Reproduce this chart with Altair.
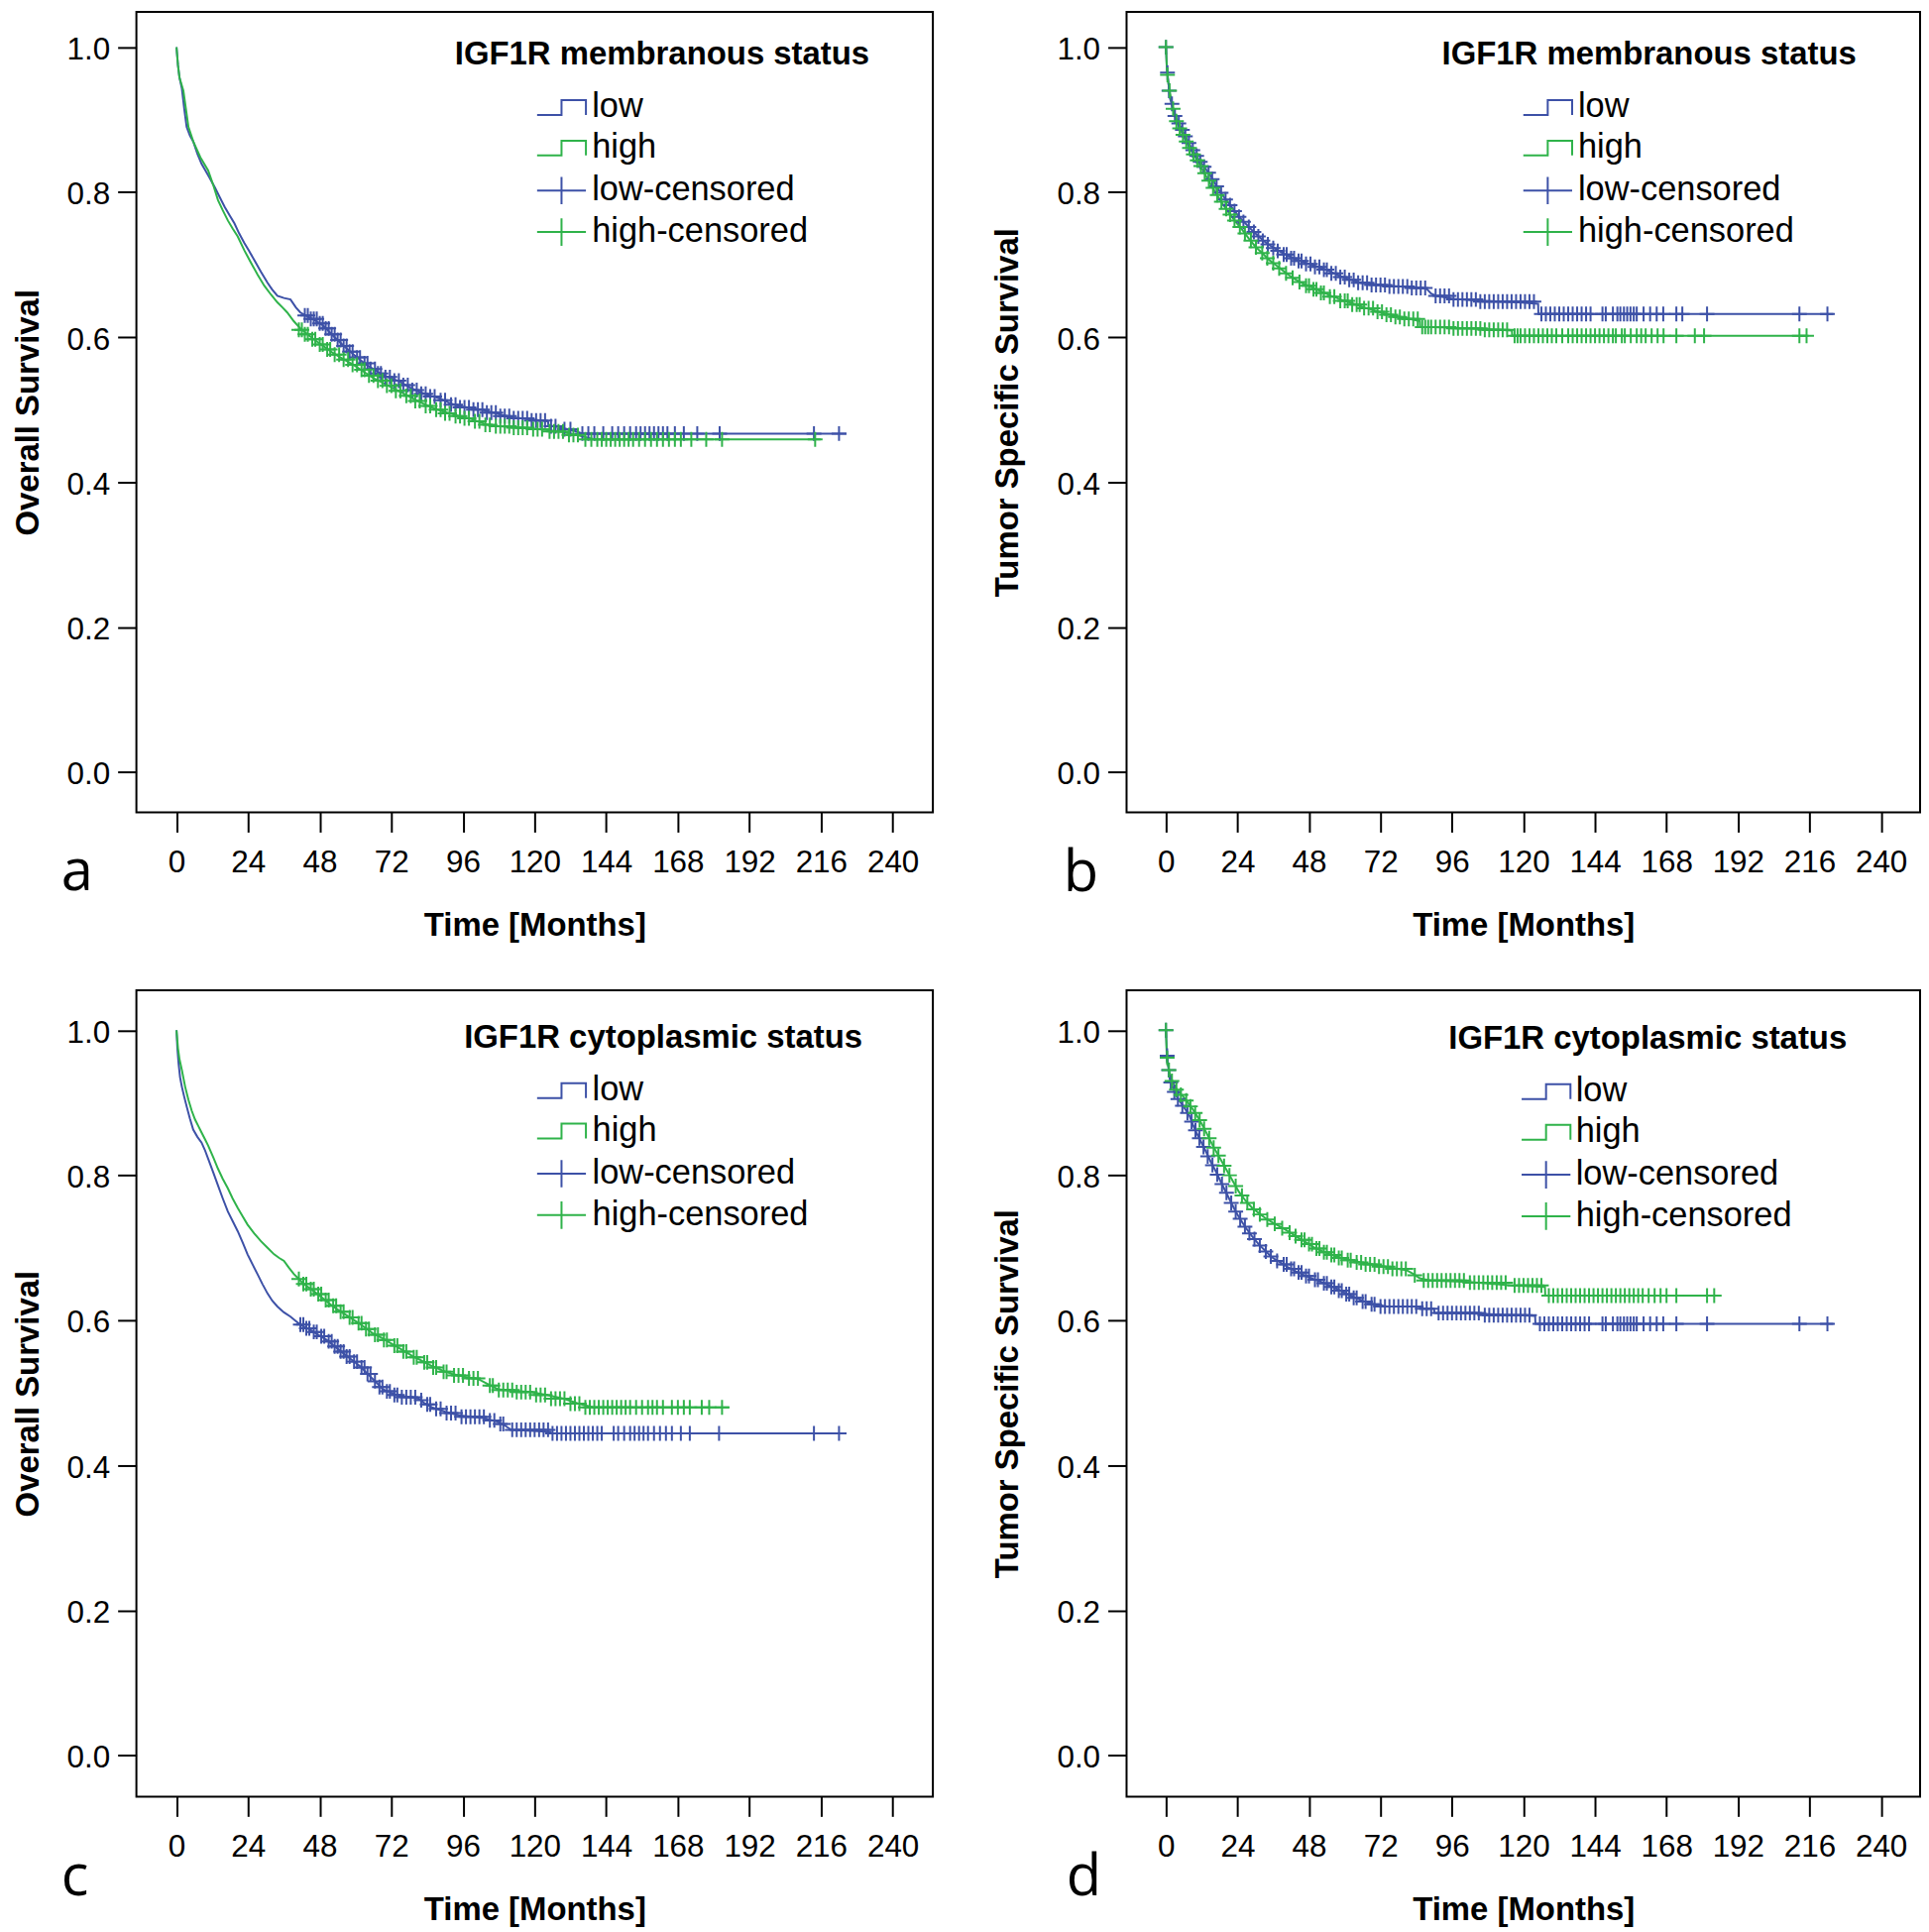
import altair as alt
import pandas as pd

LINE_SERIES = ["low", "high"]
CENS_SERIES = ["low-censored", "high-censored"]
BLUE = "#3d51a7"
GREEN = "#2fb34a"
X_TICKS = [0, 24, 48, 72, 96, 120, 144, 168, 192, 216, 240]
Y_TICKS = [0.0, 0.2, 0.4, 0.6, 0.8, 1.0]

# ---------- Panel a: membranous, overall survival ----------
A_LOW = [[0,1.0],[0.5,0.975],[1,0.958],[1.8,0.943],[2.6,0.915],[3.4,0.89],[4.5,0.878],[5.6,0.87],[7,0.853],[8.4,0.839],
         [10.5,0.824],[12.8,0.807],[14.5,0.793],[16.1,0.78],[17.8,0.768],[19.4,0.757],[21,0.743],[22.7,0.73],[24.3,0.719],
         [26,0.707],[28.3,0.69],[30.5,0.675],[32,0.666],[33.8,0.657],[36,0.654],[38.2,0.652],[40,0.641],[41.5,0.634],
         [43.7,0.629],[46.5,0.623],[49.2,0.616],[52.5,0.602],[55.8,0.589],[59.7,0.575],[63.6,0.562],[66.4,0.555],
         [69.1,0.548],[74.6,0.539],[78,0.531],[81.2,0.525],[84.5,0.52],[87.8,0.516],[91,0.51],[94.5,0.505],[99,0.502],
         [103.3,0.499],[107.7,0.494],[113.2,0.489],[118,0.487],[124.5,0.484],[124.6,0.478],[128,0.476],[131,0.473],
         [134,0.47],[136,0.467],[224.5,0.467]]
A_HIGH = [[0,1.0],[0.5,0.975],[1,0.958],[2.3,0.94],[4,0.89],[5.6,0.87],[8,0.848],[10.6,0.83],[12.3,0.81],[13.9,0.789],
          [15.5,0.775],[17.2,0.761],[18.8,0.75],[20.5,0.739],[22.7,0.72],[24.9,0.703],[27.2,0.686],[29.4,0.671],
          [31.6,0.659],[33.8,0.648],[35.5,0.641],[37.1,0.634],[39.3,0.622],[41.5,0.612],[44.2,0.603],[47,0.594],
          [49.8,0.586],[52.5,0.578],[55.8,0.57],[59.2,0.562],[62.5,0.553],[65.8,0.544],[69.1,0.537],[72.4,0.53],
          [75.7,0.523],[79,0.516],[82.3,0.509],[85.6,0.503],[89,0.498],[92.3,0.494],[95.6,0.49],[98.9,0.487],
          [102,0.482],[105.5,0.478],[112,0.476],[118.7,0.474],[124,0.472],[129.8,0.469],[135,0.464],[140,0.459],
          [215.8,0.459]]
# censored marks: [survival level, [times]]
A_LOW_C = [[0.630,[43,44]],[0.625,[45,46,47]],[0.619,[48,49]],[0.612,[50,51]],[0.604,[52,53]],[0.596,[54,55]],
           [0.588,[56,57]],[0.580,[58,59]],[0.572,[60.5,61.5]],[0.564,[63,64]],[0.556,[65,66.5]],[0.550,[67.5,68.5]],
           [0.545,[70,71.5]],[0.540,[73,74.5]],[0.534,[76,77.5]],[0.527,[79,80.5]],[0.522,[82,83.5]],[0.518,[85,86.5]],
           [0.513,[88.5,90]],[0.507,[92,93.5]],[0.503,[95,96.5,98]],[0.500,[99.5,101,102.5]],[0.496,[104,105.5,107]],
           [0.491,[108.5,110,111.5]],[0.488,[113,114.5,116,117.5]],[0.485,[119,120.5,122,123.5]],[0.477,[125.5,127]],
           [0.473,[130,132]],
           [0.467,[136,138,140,143,146,148,150,152,154,155.5,157,158.5,160,161.5,163,164.5,167,170,174.5,182,213.6,222]]]
A_HIGH_C = [[0.610,[41,42]],[0.604,[43,44]],[0.597,[45.5,46.5]],[0.590,[48,49]],[0.583,[50.5,51.5]],[0.576,[53,54.5]],
            [0.569,[56,57.5]],[0.562,[59,60.5]],[0.555,[62,63]],[0.547,[64.5,66]],[0.540,[67.5,69]],[0.533,[70.5,72]],
            [0.526,[73.5,75]],[0.519,[77,78.5]],[0.512,[80,81.5]],[0.505,[83.5,85]],[0.500,[87,88.5]],[0.495,[90,91.5]],
            [0.491,[93.5,95]],[0.488,[96.5,98]],[0.484,[100,101.5]],[0.479,[103.5,105]],[0.477,[107,108.5,110,111.5]],
            [0.475,[113,114.5,116,117.5]],[0.473,[119.5,121,122.5]],[0.470,[125,126.5,128,129.5]],
            [0.465,[131.5,133,134.5]],
            [0.459,[137,139,141,142.5,144,145.5,147,148.5,150,151.5,153,155,157,159,161,163,165,167,169,172.5,177.5,182.8,214]]]

# ---------- Panel b: membranous, tumor specific survival ----------
B_LOW = [[0,1.0],[0.3,0.97],[0.8,0.952],[1.3,0.93],[2.4,0.915],[3.5,0.902],[4.6,0.893],[5.7,0.884],[6.8,0.875],[7.9,0.866],
         [9.6,0.854],[11.3,0.843],[13,0.834],[14.6,0.825],[16.3,0.813],[17.9,0.802],[19.5,0.793],[21.2,0.784],[22.9,0.775],
         [24.5,0.766],[26.2,0.759],[27.8,0.752],[29.5,0.745],[31.1,0.739],[33.3,0.731],[35.5,0.725],[38.3,0.718],
         [41.1,0.712],[43.8,0.707],[46.6,0.703],[49.4,0.699],[52.1,0.696],[55.4,0.69],[58.7,0.684],[62,0.679],
         [65.4,0.675],[70,0.673],[74.2,0.671],[78.6,0.67],[83,0.669],[87.4,0.667],[89,0.66],[90.7,0.657],[96.3,0.653],
         [101.8,0.651],[107.3,0.65],[112.8,0.649],[118.3,0.648],[124.9,0.646],[125,0.632],[224,0.632]]
B_HIGH = [[0,1.0],[0.3,0.97],[0.8,0.95],[2.2,0.918],[3.5,0.898],[5.7,0.879],[7.9,0.861],[10.2,0.846],[12.4,0.83],
          [14.6,0.814],[16.8,0.798],[19,0.784],[21.2,0.771],[23.4,0.759],[25.6,0.748],[27.8,0.736],[30,0.725],
          [32.3,0.716],[34.5,0.707],[36.7,0.7],[38.9,0.693],[41.1,0.686],[43.3,0.68],[46,0.674],[48.8,0.669],
          [52.1,0.663],[55.4,0.657],[59.3,0.651],[63.1,0.646],[66.5,0.641],[69.8,0.637],[73.1,0.633],[76.4,0.63],
          [79.7,0.627],[83,0.624],[85.2,0.622],[85.3,0.614],[96.3,0.613],[107.3,0.611],[116.1,0.609],[116.2,0.602],
          [215.7,0.602]]
B_LOW_C = [[1.0,[0]],[0.965,[0.5]],[0.94,[1]],[0.922,[2]],[0.905,[3]],[0.895,[4.3]],[0.886,[5.5]],[0.877,[6.5]],
           [0.868,[7.7]],[0.858,[9]],[0.85,[10.3]],[0.842,[11.5]],[0.835,[12.8]],[0.827,[14.3]],[0.818,[15.5]],
           [0.808,[17]],[0.799,[18.5]],[0.79,[20]],[0.782,[21.5]],[0.774,[23]],[0.766,[24.5]],[0.759,[26]],
           [0.752,[27.8]],[0.745,[29.5]],[0.739,[31]],[0.733,[32.5]],[0.728,[34.2]],[0.723,[36]],[0.719,[37.5]],
           [0.714,[39.5,40.5]],[0.709,[42,43]],[0.705,[44.5,45.5]],[0.701,[47,48.5]],[0.697,[50,51.5]],[0.693,[53,54]],
           [0.688,[55.5,57]],[0.683,[58.5,60]],[0.679,[61.5,63]],[0.675,[64.5,66,67.5]],[0.672,[69,70.5,72,73.5]],
           [0.67,[75,76.5,78,79.5,81]],[0.668,[82.5,84,85.5,87]],[0.657,[90.5,92,93.5,95]],
           [0.652,[96.5,98,99.5,101,102.5,104]],
           [0.649,[105.5,107,108.5,110,111.5,113,114.5,116,117.5,119,120.5,122,123.5]],
           [0.632,[126,127.5,129,130.5,132,133.5,135,136.5,138,139.5,141,142.5,146.5,147.6,150,151.5,152.5,153.7,
                   154.8,155.9,157,158,160.3,162.5,164.7,166.9,171.3,173.3,181.6,212.6,222]]]
B_HIGH_C = [[1.0,[0]],[0.962,[0.5]],[0.94,[1.2]],[0.915,[2.4]],[0.898,[3.5]],[0.888,[4.6]],[0.879,[5.7]],[0.87,[6.8]],
            [0.861,[7.9]],[0.852,[9.2]],[0.844,[10.5]],[0.836,[11.7]],[0.826,[13]],[0.816,[14.4]],[0.806,[15.8]],
            [0.796,[17.2]],[0.787,[18.6]],[0.777,[20.2]],[0.769,[21.5]],[0.761,[23]],[0.752,[24.8]],[0.743,[26.5]],
            [0.733,[28.5]],[0.724,[30.2]],[0.716,[32.3]],[0.709,[34]],[0.702,[36]],[0.695,[38]],[0.688,[40.3]],
            [0.682,[42.5]],[0.676,[44.8]],[0.671,[47,48]],[0.666,[49.5,50.5]],[0.661,[52,53]],[0.656,[55,56.5]],
            [0.65,[58.5,60,61]],[0.645,[62.5,64,65]],[0.64,[66.5,68,69.5]],[0.635,[71,72.5]],[0.631,[74,75.5]],
            [0.628,[77,78.5]],[0.625,[80,81.5,83,84.5]],[0.614,[86,87,88,89,90.5,92,93.5,95]],
            [0.612,[96.5,98,99.5,101,102.5,104,105.5]],[0.61,[107,108.5,110,111.5,113,114.5]],
            [0.602,[117,118,119,120.5,122,123.5,125,126.5,128,129.5,131,133,135,136.5,138,139.5,141,142.5,144,145.5,
                    147,148.5,150,151,153,154,156,158,159.5,161,163,165,167,171.3,177.5,180.6,212.6,215]]]

# ---------- Panel c: cytoplasmic, overall survival ----------
C_LOW = [[0,1.0],[0.3,0.975],[0.7,0.954],[1.2,0.935],[1.8,0.922],[2.6,0.908],[3.4,0.895],[4.5,0.878],[5.6,0.863],[7,0.853],
         [8.4,0.845],[9.5,0.835],[10.6,0.823],[12.3,0.804],[13.9,0.786],[15.5,0.768],[17.2,0.75],[18.8,0.737],
         [20.5,0.723],[22.2,0.707],[23.8,0.691],[25.5,0.677],[27.1,0.664],[28.8,0.65],[30.5,0.637],[32.1,0.627],
         [33.8,0.619],[36,0.611],[38.2,0.605],[40,0.599],[41.5,0.594],[43.2,0.59],[44.8,0.587],[47.5,0.58],[50.3,0.573],
         [53,0.564],[55.8,0.555],[58.6,0.546],[61.4,0.537],[63.6,0.528],[65.8,0.519],[67.5,0.512],[69.1,0.505],[72,0.5],
         [74.6,0.496],[78,0.494],[81.2,0.492],[83,0.486],[85.6,0.48],[90,0.474],[94.5,0.469],[99,0.467],[103.3,0.465],
         [107.7,0.46],[110,0.455],[112.1,0.449],[125.4,0.446],[125.5,0.444],[224.5,0.444]]
C_HIGH = [[0,1.0],[0.5,0.975],[1,0.96],[1.8,0.945],[2.9,0.922],[4,0.904],[5.1,0.889],[6.2,0.877],[7.3,0.868],[8.4,0.859],
          [9.5,0.85],[10.6,0.841],[12.3,0.825],[13.9,0.809],[15.5,0.795],[17.2,0.782],[18.8,0.768],[20.5,0.755],
          [22.2,0.743],[23.8,0.732],[26,0.72],[28.3,0.709],[30.5,0.7],[32.7,0.691],[34.4,0.686],[36,0.682],[37.6,0.673],
          [39.3,0.664],[41,0.657],[42.6,0.65],[44.8,0.644],[47,0.637],[49.8,0.628],[52.5,0.619],[55.8,0.61],[59.2,0.601],
          [62.5,0.592],[65.8,0.582],[69.1,0.575],[72.4,0.567],[75.7,0.559],[79,0.551],[82.3,0.544],[85.6,0.537],
          [89,0.531],[92.3,0.526],[96.7,0.522],[101.1,0.519],[104.4,0.512],[107.7,0.505],[113,0.503],[118.7,0.501],
          [124,0.497],[129.8,0.492],[134.7,0.485],[139.7,0.48],[185.2,0.48]]
C_LOW_C = [[0.594,[41.5,42.5]],[0.589,[43.5,44.5]],[0.584,[46,47]],[0.578,[48.5,49.5]],[0.571,[51,52]],[0.564,[53,54]],
           [0.557,[55,56]],[0.55,[57,58]],[0.543,[59.5,60.5]],[0.535,[62,63]],[0.526,[64,65]],[0.516,[66.5]],
           [0.508,[68,69]],[0.502,[70.5,71.5]],[0.497,[73,74]],[0.494,[75.5,77,78.5,80]],[0.49,[82]],[0.484,[84,85]],
           [0.478,[87,88.5]],[0.472,[90.5,92,93.5]],[0.467,[95.5,97,98.5,100,101.5,103]],[0.462,[105,106.5]],
           [0.457,[108.5,109.5]],[0.449,[112.5,114,115.5,117,118.5,120,121.5,123,124.5]],
           [0.444,[126,127.5,129,130.5,132,133.5,135,136.5,138,139.5,141,142.5,146.5,148,150,152,153.5,155,156.5,
                   158,160,162,164,166,169,172,181.8,213.6,222]]]
C_HIGH_C = [[0.657,[41]],[0.65,[42.5,43.5]],[0.643,[45,46]],[0.636,[47.5,48.5]],[0.628,[50,51]],[0.62,[52.5,53.5]],
            [0.612,[55,56]],[0.604,[58,59]],[0.596,[61,62]],[0.588,[63.5,64.5]],[0.58,[66.5,67.5]],[0.573,[69.5,70.5]],
            [0.565,[73,74]],[0.557,[76,77]],[0.549,[79.5,80.5]],[0.542,[83,84]],[0.535,[86,87]],[0.529,[89.5,90.5]],
            [0.524,[93,94.5,96]],[0.52,[98,99.5,101]],[0.51,[105,106]],[0.504,[108,109.5,111,112.5]],
            [0.501,[114,115.5,117,118.5]],[0.497,[120.5,122,123.5]],[0.492,[125.5,127,128.5,130]],[0.485,[132,133.5,135]],
            [0.48,[137,138.5,140,141.5,143,144.5,146,147.5,149,150.5,152,154,156,158,159.5,161,163,166,168,170,172,
                   176,178.5,182.8]]]

# ---------- Panel d: cytoplasmic, tumor specific survival ----------
D_LOW = [[0,1.0],[0.3,0.968],[1.3,0.932],[2.4,0.92],[3.5,0.909],[4.6,0.902],[5.7,0.896],[6.8,0.889],[7.9,0.882],[9,0.87],
         [10.2,0.859],[11.8,0.846],[13.5,0.832],[15.1,0.818],[16.8,0.805],[18.4,0.791],[20.1,0.777],[21.8,0.763],
         [23.4,0.75],[25,0.739],[26.7,0.728],[28.9,0.716],[31.1,0.705],[33.3,0.696],[35.5,0.687],[38.3,0.68],
         [41.1,0.673],[43.8,0.667],[46.6,0.662],[49.4,0.657],[52.1,0.653],[54.9,0.648],[57.6,0.643],[60.4,0.637],
         [63.1,0.632],[65.9,0.627],[68.7,0.623],[71.5,0.621],[74.2,0.619],[85.2,0.619],[85.3,0.616],[90,0.616],
         [90.1,0.61],[105,0.609],[123.9,0.606],[124,0.595],[224,0.595]]
D_HIGH = [[0,1.0],[0.3,0.959],[1.3,0.94],[2.4,0.927],[4,0.916],[5.7,0.909],[7.4,0.9],[9,0.891],[10.7,0.88],[12.4,0.868],
          [14,0.855],[15.7,0.841],[17.9,0.825],[20.1,0.809],[22.3,0.793],[24.5,0.777],[26.7,0.765],[28.9,0.755],
          [31.1,0.748],[33.3,0.741],[36.1,0.734],[38.9,0.728],[41.7,0.721],[44.4,0.714],[47.2,0.707],[49.9,0.7],
          [53.2,0.694],[56.5,0.689],[59.8,0.685],[63.1,0.682],[67.5,0.678],[72,0.675],[76.4,0.672],[80.8,0.669],
          [83,0.664],[85.2,0.658],[88.5,0.655],[101.8,0.653],[116.1,0.648],[127.2,0.646],[127.3,0.634],[184.7,0.634]]
D_LOW_C = [[1.0,[0]],[0.965,[0.4]],[0.945,[0.9]],[0.928,[1.6]],[0.915,[2.8]],[0.905,[4]],[0.896,[5.5]],[0.886,[7.2]],
           [0.874,[8.6]],[0.862,[9.9]],[0.851,[11.2]],[0.839,[12.6]],[0.826,[14]],[0.814,[15.6]],[0.801,[17.2]],
           [0.788,[18.8]],[0.776,[20.3]],[0.762,[21.9]],[0.75,[23.4]],[0.74,[24.9]],[0.729,[26.5]],[0.72,[28]],
           [0.712,[29.7]],[0.703,[31.5]],[0.695,[33.5]],[0.688,[35.2]],[0.682,[37.3]],[0.677,[39.5,40.5]],
           [0.671,[42,43]],[0.666,[44.5,45.5]],[0.661,[47,48]],[0.656,[50,51]],[0.651,[53,54]],[0.646,[55.5,56.5]],
           [0.641,[58,59]],[0.636,[60.5,61.5]],[0.631,[63,64]],[0.626,[66,67]],[0.622,[69,70]],
           [0.619,[72,73.5,75,76.5,78,79.5,81,82.5,84]],[0.616,[86,87.5,89]],
           [0.61,[91.5,93,94.5,96,97.5,99,100.5,102,103.5,105]],
           [0.607,[107,108.5,110,111.5,113,114.5,116,117.5,119,120.5,122]],
           [0.595,[125.5,127,128.5,130,131.5,133,134.5,136,137.5,139,140.5,142,146.5,147.6,150,151.5,152.5,153.7,
                   154.8,155.9,157,158,160.3,162.5,164.7,166.9,171.3,181.6,212.6,222]]]
D_HIGH_C = [[1.0,[0]],[0.962,[0.4]],[0.945,[1]],[0.93,[2]],[0.918,[3.5]],[0.911,[5]],[0.903,[6.8]],[0.895,[8.2]],
            [0.886,[9.8]],[0.876,[11.3]],[0.864,[12.8]],[0.851,[14.5]],[0.838,[16]],[0.827,[17.6]],[0.813,[19.5]],
            [0.8,[21.3]],[0.785,[23.4]],[0.772,[25.5]],[0.762,[27.3]],[0.753,[29.5]],[0.746,[31.5]],[0.739,[34]],
            [0.733,[36.5]],[0.727,[39]],[0.721,[41.5]],[0.716,[43.5]],[0.711,[45.5,46.5]],[0.705,[48,49]],
            [0.699,[50.5,51.5]],[0.694,[53,54]],[0.69,[55.5,56.5]],[0.686,[58,59]],[0.683,[61,62]],[0.68,[64,65.5]],
            [0.677,[67,68.5,70]],[0.674,[71.5,73,74.5]],[0.671,[76,77.5,79,80.5]],[0.662,[83.5]],
            [0.655,[86.5,88,89.5,91,92.5,94,95.5,97,98.5,100]],[0.652,[102,103.5,105,106.5,108,109.5,111,112.5,114]],
            [0.648,[117,118.5,120,121.5,123,124.5,126]],
            [0.634,[128.5,130,131.5,133,134.5,136,137.5,139,140.5,142,143.5,145,146.5,148,149.5,151,152.5,154,155.5,
                    157,158.5,160,162,164,166,168,171.3,181.6,184]]]

LEG_STEP = "M-1.3,0.395H0V-0.395H1.3V0.395"
LEG_PLUS = "M-1.3,0H1.3M0,-0.73V0.73"
CENS_PLUS = "M-1,0H1M0,-1V1"
FONT = "Liberation Sans"
TITLE_FS = 33
TITLE_PAD = 16.7
ROW_PAD = 4
ROW_PITCH = 38 + ROW_PAD


def curve_rows(points, series):
    return [{"t": t, "s": s, "series": series, "i": i} for i, (t, s) in enumerate(points)]


def cens_rows(groups, series):
    return [{"t": t, "s": s, "cseries": series} for s, ts in groups for t in ts]


def legend_common(symbol_type, sym_off, lab_off):
    return dict(
        orient="none", direction="vertical",
        labelFont=FONT, labelFontSize=34.5, labelColor="black", labelLimit=1000, labelOffset=lab_off,
        symbolType=symbol_type, symbolSize=1444, symbolStrokeWidth=2, symbolOffset=sym_off,
        symbolFillColor="transparent", symbolOpacity=1, rowPadding=ROW_PAD, padding=0,
    )


def panel(low, high, low_c, high_c, ytitle, status, letter, width, height, xdom, ydom,
          leg_x, leg_y, sym_off, lab_off, ytitle_x, letter_dx, letter_dy):
    cdf = pd.DataFrame(curve_rows(low, "low") + curve_rows(high, "high"))
    pdf = pd.DataFrame(cens_rows(low_c, "low-censored") + cens_rows(high_c, "high-censored"))
    x = alt.X("t:Q", scale=alt.Scale(domain=xdom, nice=False, zero=False),
              axis=alt.Axis(values=X_TICKS, title="Time [Months]", titleY=124, titleBaseline="alphabetic",
                            tickSize=20, labelPadding=15, labelOverlap=False))
    y = alt.Y("s:Q", scale=alt.Scale(domain=ydom, nice=False, zero=False),
              axis=alt.Axis(values=Y_TICKS, format=".1f", title=ytitle, titleX=ytitle_x,
                            titleBaseline="alphabetic", tickSize=19, labelPadding=8, labelOffset=3,
                            labelOverlap=False))
    leg1 = alt.Legend(
        legendX=leg_x, legendY=leg_y,
        title=status, titleFont=FONT, titleFontSize=TITLE_FS, titleFontWeight="bold", titleColor="black",
        titlePadding=TITLE_PAD, titleLimit=1000, titleAnchor="start",
        **legend_common(LEG_STEP, sym_off, lab_off),
    )
    leg2 = alt.Legend(
        legendX=leg_x, legendY=leg_y + TITLE_FS + TITLE_PAD + 2 * ROW_PITCH, title=None,
        **legend_common(LEG_PLUS, sym_off, lab_off),
    )
    color = alt.Color("series:N", scale=alt.Scale(domain=LINE_SERIES, range=[BLUE, GREEN]), legend=leg1)
    stroke = alt.Stroke("cseries:N", scale=alt.Scale(domain=CENS_SERIES, range=[BLUE, GREEN]), legend=leg2)
    lines = alt.Chart(cdf).mark_line(strokeWidth=2, interpolate="linear").encode(
        x=x, y=y, color=color, order="i:Q")
    pts = alt.Chart(pdf).mark_point(shape=CENS_PLUS, size=225, filled=False, strokeWidth=2, opacity=1).encode(
        x=x, y=y, stroke=stroke)
    return alt.layer(lines, pts).properties(
        width=width, height=height,
        title=alt.TitleParams(text=letter, orient="bottom", anchor="start", frame="group",
                              font="Open Sans", fontSize=58, fontWeight="normal", color="black",
                              baseline="alphabetic", dx=letter_dx, dy=letter_dy, offset=0),
    )


W_L, W_R = 806, 803
H_T, H_B = 810, 816
XD_L = [-13.44, 253.45]
XD_R = [-13.23, 253.1]
YD_T = [-0.0555, 1.0487]
YD_B = [-0.0568, 1.0552]

pa = panel(A_LOW, A_HIGH, A_LOW_C, A_HIGH_C, "Overall Survival", "IGF1R membranous status", "a",
           W_L, H_T, XD_L, YD_T, 322.2, 27.1, 88, 10.8, -99, -76, -52)
pb = panel(B_LOW, B_HIGH, B_LOW_C, B_HIGH_C, "Tumor Specific Survival", "IGF1R membranous status", "b",
           W_R, H_T, XD_R, YD_T, 319, 27.1, 87.2, 10.7, -110, -64, -51)
pc = panel(C_LOW, C_HIGH, C_LOW_C, C_HIGH_C, "Overall Survival", "IGF1R cytoplasmic status", "c",
           W_L, H_B, XD_L, YD_B, 331.6, 31.9, 78.6, 11.2, -99, -76, -31)
pd_ = panel(D_LOW, D_HIGH, D_LOW_C, D_HIGH_C, "Tumor Specific Survival", "IGF1R cytoplasmic status", "d",
            W_R, H_B, XD_R, YD_B, 325.8, 33.0, 78.7, 10.1, -110, -61, -31)

chart = alt.concat(pa, pb, pc, pd_, columns=2, spacing={"row": 180, "column": 196}, bounds="flush").resolve_scale(
    color="independent", stroke="independent", x="independent", y="independent"
).properties(
    padding={"left": 4, "top": 0, "right": 0, "bottom": 0}, background="white"
).configure(
    font=FONT
).configure_view(
    stroke="black", strokeWidth=2
).configure_axis(
    grid=False, domain=False, tickColor="black", tickWidth=2,
    labelFont=FONT, labelFontSize=31.5, labelColor="black",
    titleFont=FONT, titleFontSize=33, titleFontWeight="bold", titleColor="black",
)

chart.save("out.html", embed_options={"renderer": "svg", "actions": False})
